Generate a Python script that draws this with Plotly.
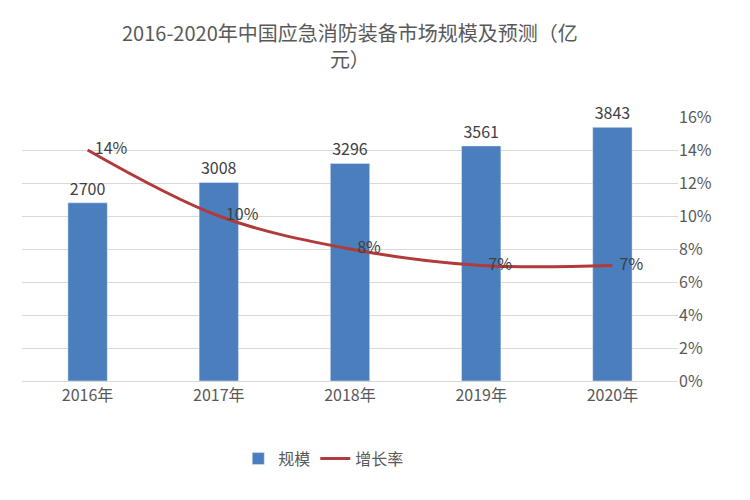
import plotly.graph_objects as go

years = ["2016年", "2017年", "2018年", "2019年", "2020年"]
scale = [2700, 3008, 3296, 3561, 3843]
growth = [0.14, 0.10, 0.08, 0.07, 0.07]
growth_labels = ["  14%", "  10%", "  8%", "  7%", "  7%"]

font = "Noto Sans CJK SC"
fig = go.Figure()
fig.add_trace(go.Bar(x=years, y=scale, name="规模", marker_color="#4A7EBD", width=0.3,
                     text=[str(v) for v in scale], textposition="outside",
                     textfont=dict(size=16, color="#404040"), cliponaxis=False))
fig.add_trace(go.Scatter(x=years, y=growth, name="增长率", yaxis="y2", mode="lines+text",
                         line=dict(color="#B23A3A", width=3, shape="spline"),
                         text=growth_labels, textposition="middle right",
                         textfont=dict(size=16, color="#404040"), cliponaxis=False))
fig.add_annotation(text="2016-2020年中国应急消防装备市场规模及预测（亿<br>元）",
                   xref="paper", yref="paper", x=0.5, y=1.16, xanchor="center", yanchor="bottom",
                   showarrow=False, font=dict(size=20, color="#595959"))
fig.update_layout(
    width=750, height=500, plot_bgcolor="white", paper_bgcolor="white",
    font=dict(family=font, color="#595959"),
    margin=dict(l=14, r=80, t=109, b=127, autoexpand=False),
    xaxis=dict(tickfont=dict(size=16, color="#595959"), showline=True, linecolor="#D9D9D9",
               ticks=""),
    yaxis=dict(range=[0, 4000], dtick=500, showticklabels=False, gridcolor="#D9D9D9",
               zeroline=False),
    yaxis2=dict(range=[0, 0.16], dtick=0.02, tickformat=".0%", overlaying="y", side="right",
                showgrid=False, zeroline=False, tickfont=dict(size=16, color="#595959")),
    legend=dict(orientation="h", x=0.46, xanchor="center", y=-0.23, yanchor="top",
                font=dict(size=16, color="#595959")),
    bargap=0.7,
)
fig.write_html("out.html")
